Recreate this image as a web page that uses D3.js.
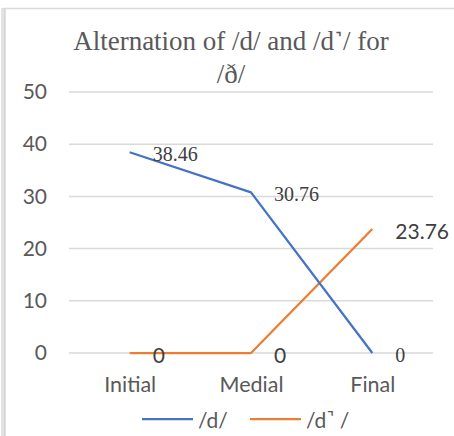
<!DOCTYPE html>
<html>
<head>
<meta charset="utf-8">
<script src="https://cdn.jsdelivr.net/npm/d3@7"></script>
<style>
  html, body { margin: 0; padding: 0; background: #fff; }
  svg { display: block; }
</style>
</head>
<body>
<svg id="chart" width="454" height="436"></svg>
<script>
// Chart data
const categories = ["Initial", "Medial", "Final"];
const dValues = [38.46, 30.76, 0];
const dUnreleasedValues = [0, 0, 23.76];
const yTicks = [0, 10, 20, 30, 40, 50];
const titleLines = ["Alternation of /d/ and /d\u02FA/ for", "/\u00F0/"];
const seriesNames = ["/d/", "/d\u02FA /"];

const W = 454, H = 436;
const svg = d3.select("#chart");
const sans = "Lato, 'Open Sans', sans-serif";
const serif = "'Liberation Serif', 'Times New Roman', serif";

// Outer frame (top and left edges)
svg.append("rect").attr("x", 1).attr("y", 8).attr("width", 5).attr("height", H - 8).attr("fill", "#e4e4e4");
svg.append("line").attr("x1", 4.5).attr("x2", 4.5).attr("y1", 9).attr("y2", H).attr("stroke", "#d6d6d6").attr("stroke-width", 1.5);
svg.append("line").attr("x1", 3).attr("x2", W).attr("y1", 8.5).attr("y2", 8.5).attr("stroke", "#d9d9d9").attr("stroke-width", 1.5);

const x = d3.scalePoint().domain(categories).range([69, 433]).padding(0.5);
const y = d3.scaleLinear().domain([0, 50]).range([353, 92]);

// Title
const title = svg.append("text")
  .attr("text-anchor", "middle")
  .attr("font-family", serif)
  .attr("font-size", 27)
  .attr("fill", "#595959");
title.selectAll("tspan").data(titleLines).join("tspan")
  .attr("x", 231)
  .attr("y", (d, i) => 50 + i * 33)
  .text(d => d);

// Gridlines
svg.append("g").selectAll("line").data(yTicks).join("line")
  .attr("x1", 69).attr("x2", 433)
  .attr("y1", d => y(d)).attr("y2", d => y(d))
  .attr("stroke", "#d9d9d9").attr("stroke-width", 1.5);

// Y axis labels
const yAxis = d3.axisLeft(y).tickValues(yTicks).tickSize(0).tickPadding(0);
svg.append("g")
  .attr("transform", "translate(47,0)")
  .call(yAxis)
  .call(g => g.select(".domain").remove())
  .call(g => g.selectAll("text")
    .attr("font-family", sans).attr("font-size", 21).attr("fill", "#595959"));

// X axis labels
const xAxis = d3.axisBottom(x).tickSize(0).tickPadding(0);
svg.append("g")
  .attr("transform", "translate(0,377)")
  .call(xAxis)
  .call(g => g.select(".domain").remove())
  .call(g => g.selectAll("text")
    .attr("font-family", sans).attr("font-size", 21.5).attr("fill", "#595959"));

const series = [
  { name: seriesNames[0], values: dValues, color: "#4472C4", labelFont: serif, labelSize: 20 },
  { name: seriesNames[1], values: dUnreleasedValues, color: "#ED7D31", labelFont: sans, labelSize: 21 }
];

const line = d3.line().x(d => x(d.cat)).y(d => y(d.v));

// Lines (orange drawn first, blue on top)
[series[1], series[0]].forEach(s => {
  const pts = categories.map((c, i) => ({ cat: c, v: s.values[i] }));
  svg.append("path")
    .datum(pts)
    .attr("d", line)
    .attr("fill", "none")
    .attr("stroke", s.color)
    .attr("stroke-width", 2.25)
    .attr("stroke-linejoin", "round");
});

// Data labels
series.forEach(s => {
  svg.append("g").selectAll("text").data(categories.map((c, i) => ({ cat: c, v: s.values[i] }))).join("text")
    .attr("x", d => x(d.cat) + 23)
    .attr("y", d => y(d.v) + 1.5)
    .attr("dominant-baseline", "central")
    .attr("font-family", s.labelFont)
    .attr("font-size", s.labelSize)
    .attr("fill", "#404040")
    .text(d => d.v);
});

// Legend
const legend = svg.append("g");
const legendItems = [
  { name: seriesNames[0], color: series[0].color, x0: 142 },
  { name: seriesNames[1], color: series[1].color, x0: 250 }
];
legendItems.forEach(item => {
  legend.append("line")
    .attr("x1", item.x0).attr("x2", item.x0 + 51)
    .attr("y1", 419).attr("y2", 419)
    .attr("stroke", item.color).attr("stroke-width", 2.25);
  legend.append("text")
    .attr("x", item.x0 + 56).attr("y", 419)
    .attr("dominant-baseline", "central")
    .attr("font-family", sans).attr("font-size", 21).attr("fill", "#595959")
    .text(item.name);
});
</script>
</body>
</html>
